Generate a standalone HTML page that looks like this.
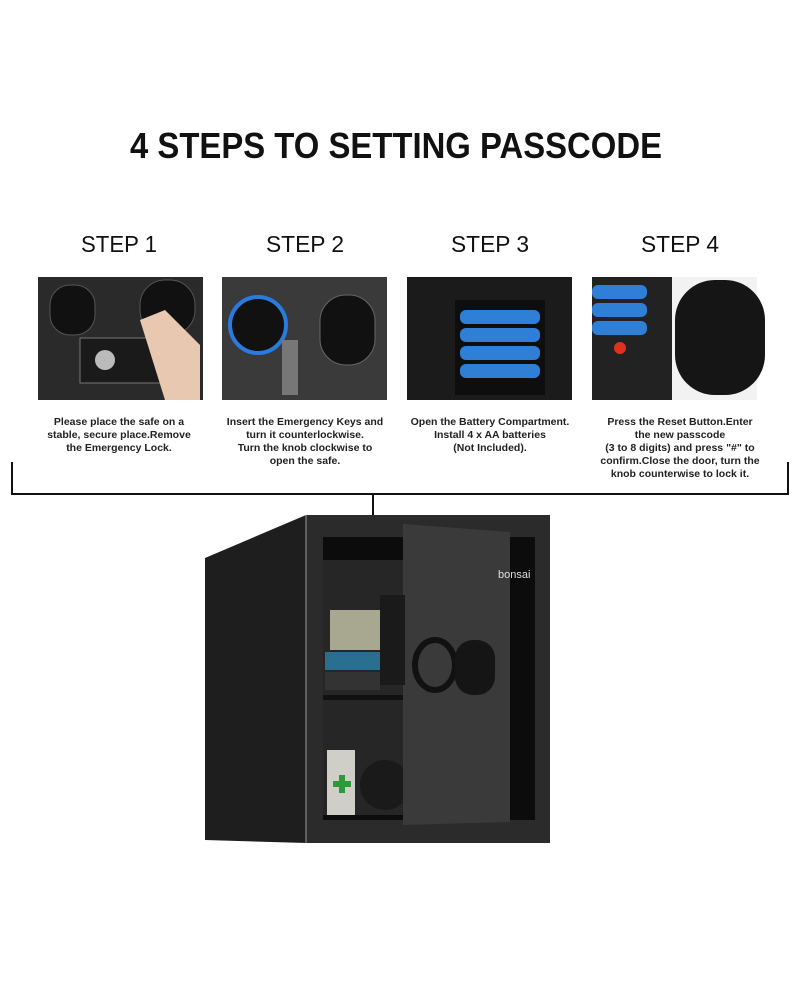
<!DOCTYPE html>
<html><head><style>
body{margin:0;background:#fff;width:800px;height:977px;overflow:hidden;font-family:"Liberation Sans",sans-serif}
</style></head><body>
<svg width="800" height="977" viewBox="0 0 800 977" xmlns="http://www.w3.org/2000/svg" font-family="Liberation Sans, sans-serif">
<text x="130" y="158" textLength="532" lengthAdjust="spacingAndGlyphs" font-size="36" font-weight="bold" fill="#111">4 STEPS TO SETTING PASSCODE</text>
<g font-size="23" fill="#111">
<text x="81" y="252" textLength="76" lengthAdjust="spacingAndGlyphs">STEP 1</text>
<text x="266" y="252" textLength="78" lengthAdjust="spacingAndGlyphs">STEP 2</text>
<text x="451" y="252" textLength="78" lengthAdjust="spacingAndGlyphs">STEP 3</text>
<text x="641" y="252" textLength="78" lengthAdjust="spacingAndGlyphs">STEP 4</text>
</g>
<!-- step 1 -->
<rect x="38" y="277" width="165" height="123" fill="#2a2a2a"/>
<rect x="50" y="285" width="45" height="50" rx="20" fill="#111" stroke="#555"/>
<rect x="140" y="280" width="55" height="55" rx="25" fill="#111" stroke="#555"/>
<rect x="80" y="338" width="90" height="45" fill="#1a1a1a" stroke="#777"/>
<circle cx="105" cy="360" r="10" fill="#bbb"/>
<path d="M140 320 L165 310 L200 345 L200 400 L165 400 Z" fill="#e8c8b0"/>
<!-- step 2 -->
<rect x="222" y="277" width="165" height="123" fill="#3a3a3a"/>
<circle cx="258" cy="325" r="28" fill="#111" stroke="#2a7be0" stroke-width="4"/>
<rect x="320" y="295" width="55" height="70" rx="26" fill="#111" stroke="#666"/>
<rect x="282" y="340" width="16" height="55" fill="#777"/>
<!-- step 3 -->
<rect x="407" y="277" width="165" height="123" fill="#1b1b1b"/>
<rect x="455" y="300" width="90" height="95" fill="#0e0e0e"/>
<g fill="#2f7fd6"><rect x="460" y="310" width="80" height="14" rx="6"/><rect x="460" y="328" width="80" height="14" rx="6"/><rect x="460" y="346" width="80" height="14" rx="6"/><rect x="460" y="364" width="80" height="14" rx="6"/></g>
<!-- step 4 -->
<rect x="592" y="277" width="165" height="123" fill="#f2f2f2"/>
<rect x="592" y="277" width="80" height="123" fill="#222"/>
<g fill="#2f7fd6"><rect x="592" y="285" width="55" height="14" rx="6"/><rect x="592" y="303" width="55" height="14" rx="6"/><rect x="592" y="321" width="55" height="14" rx="6"/></g>
<circle cx="620" cy="348" r="6" fill="#e03020"/>
<rect x="675" y="280" width="90" height="115" rx="40" fill="#151515"/>
<g font-size="10.5" text-anchor="middle" font-weight="bold" fill="#222">
<text x="119" y="425">Please place the safe on a</text>
<text x="119" y="438">stable, secure place.Remove</text>
<text x="119" y="451">the Emergency Lock.</text>
<text x="305" y="425">Insert the Emergency Keys and</text>
<text x="305" y="438">turn it counterlockwise.</text>
<text x="305" y="451">Turn the knob clockwise to</text>
<text x="305" y="464">open the safe.</text>
<text x="490" y="425">Open the Battery Compartment.</text>
<text x="490" y="438">Install 4 x AA batteries</text>
<text x="490" y="451">(Not Included).</text>
<text x="680" y="425">Press the Reset Button.Enter</text>
<text x="680" y="438">the new passcode</text>
<text x="680" y="451">(3 to 8 digits) and press "#" to</text>
<text x="680" y="464">confirm.Close the door, turn the</text>
<text x="680" y="477">knob counterwise to lock it.</text>
</g>
<path d="M12 462 V494 H788 V462 M373 494 V520" fill="none" stroke="#111" stroke-width="2"/>
<!-- safe -->
<polygon points="205,558 306,515 306,843 205,840" fill="#1e1e1e"/>
<rect x="306" y="515" width="244" height="328" fill="#2b2b2b"/>
<line x1="306" y1="515" x2="306" y2="843" stroke="#999" stroke-width="1"/>
<rect x="323" y="537" width="212" height="283" fill="#0c0c0c"/>
<rect x="323" y="560" width="80" height="255" fill="#262626"/>
<rect x="323" y="695" width="80" height="5" fill="#111"/>
<rect x="330" y="610" width="50" height="40" fill="#a8a890"/>
<rect x="325" y="652" width="55" height="18" fill="#2a6f90"/>
<rect x="325" y="672" width="55" height="18" fill="#333"/>
<rect x="327" y="750" width="28" height="65" fill="#cfcfc8"/>
<rect x="339" y="775" width="6" height="18" fill="#2a9a3a"/><rect x="333" y="781" width="18" height="6" fill="#2a9a3a"/>
<circle cx="385" cy="785" r="25" fill="#1a1a1a"/>
<polygon points="403,524 510,532 510,822 403,825" fill="#3a3a3a"/>
<rect x="380" y="595" width="25" height="90" fill="#1a1a1a"/>
<ellipse cx="435" cy="665" rx="20" ry="25" fill="none" stroke="#111" stroke-width="6"/>
<rect x="455" y="640" width="40" height="55" rx="18" fill="#151515"/>
<text x="498" y="578" font-size="11" fill="#ddd">bonsai</text>
</svg>
</body></html>
